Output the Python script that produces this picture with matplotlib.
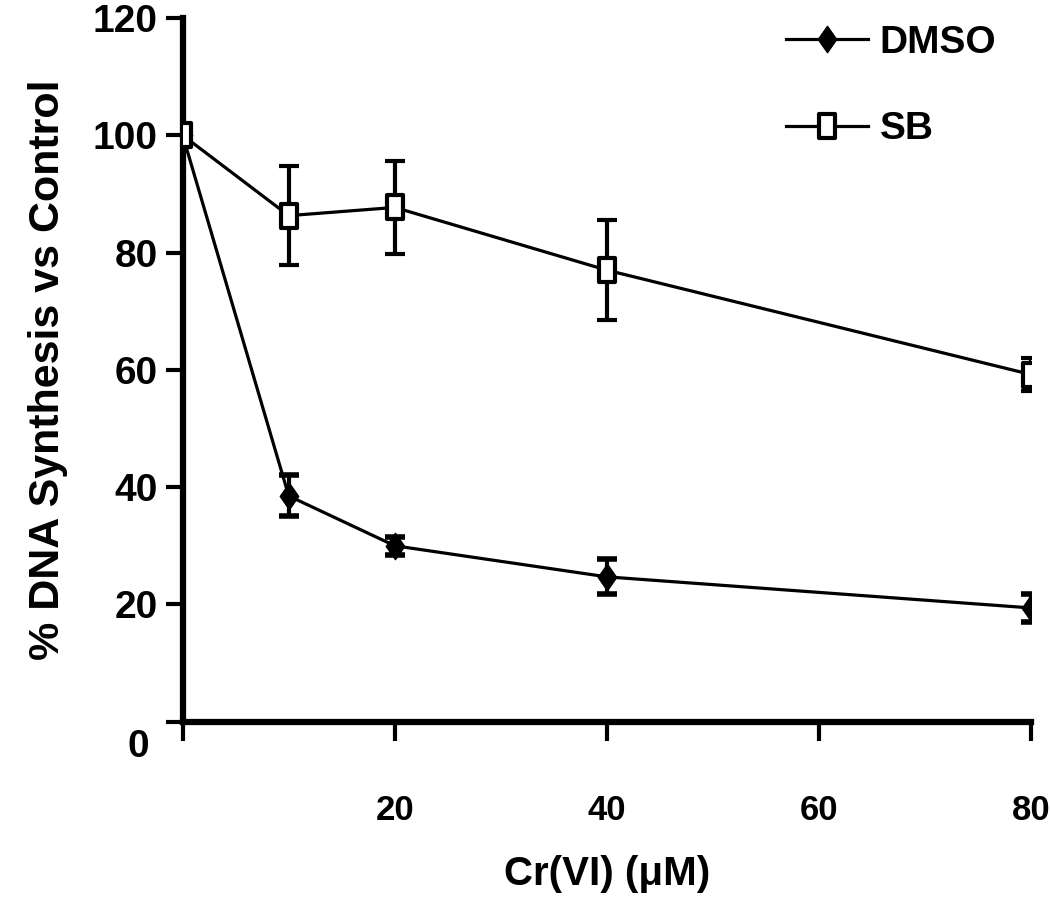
import matplotlib
matplotlib.use("Agg")
import matplotlib.pyplot as plt
from matplotlib.path import Path

# data
dose = [0, 10, 20, 40, 80]
dmso = [100, 38.5, 30, 24.7, 19.4]
dmso_err = [0, 3.5, 1.5, 3.0, 2.4]
sb = [100, 86.3, 87.7, 77.0, 59.2]
sb_err = [0, 8.5, 8.0, 8.5, 2.8]

xticks = [0, 20, 40, 60, 80]
xticklabels = ["", "20", "40", "60", "80"]
yticks = [0, 20, 40, 60, 80, 100, 120]
yticklabels = ["", "20", "40", "60", "80", "100", "120"]

plt.rcParams["font.family"] = ["Liberation Sans Narrow", "Liberation Sans", "DejaVu Sans"]
plt.rcParams["font.weight"] = "bold"

# tall markers, the original figure is squeezed horizontally
diamond = Path([(-0.7, 0), (0, 1), (0.7, 0), (0, -1), (-0.7, 0)],
               [Path.MOVETO, Path.LINETO, Path.LINETO, Path.LINETO, Path.CLOSEPOLY])
rect = Path([(-0.7, -1), (0.7, -1), (0.7, 1), (-0.7, 1), (-0.7, -1)],
            [Path.MOVETO, Path.LINETO, Path.LINETO, Path.LINETO, Path.CLOSEPOLY])

fig = plt.figure(figsize=(10.5, 9.01), dpi=100)
ax = fig.add_axes([0.174, 0.199, 0.808, 0.781])

ax.errorbar(dose, dmso, yerr=dmso_err, color="black", lw=2.3, marker=diamond, ms=19,
            mfc="black", mec="black", elinewidth=3, capsize=7.5, capthick=4, label="DMSO", zorder=3)
ax.errorbar(dose, sb, yerr=sb_err, color="black", lw=2.3, marker=rect, ms=17,
            mfc="white", mec="black", mew=3, elinewidth=3, capsize=7.5, capthick=4,
            label="SB", zorder=4)

ax.set_xlim(0, 80)
ax.set_ylim(0, 120)
ax.set_xticks(xticks)
ax.set_xticklabels(xticklabels)
ax.set_yticks(yticks)
ax.set_yticklabels(yticklabels)
ax.tick_params(axis="both", direction="out", width=3, labelsize=28)
ax.tick_params(axis="x", length=14, pad=38, labelsize=25)
ax.tick_params(axis="y", length=12, pad=6)
ax.text(-0.04, -0.01, "0", transform=ax.transAxes, ha="right", va="top", fontsize=28,
        fontweight="bold")

for s in ("top", "right"):
    ax.spines[s].set_visible(False)
for s in ("left", "bottom"):
    ax.spines[s].set_linewidth(4.5)

ax.set_xlabel("Cr(VI) (\u03bcM)", fontsize=29, fontweight="bold", labelpad=20)
ax.set_ylabel("% DNA Synthesis vs Control", fontsize=31, fontweight="bold", labelpad=18)

handles, labels = ax.get_legend_handles_labels()
handles = [h[0] for h in handles]
leg = ax.legend(handles, labels, loc="upper right", bbox_to_anchor=(1.0, 1.04), frameon=False,
                fontsize=28, handlelength=2.1, labelspacing=1.3, handletextpad=0.3)

fig.savefig("out.png", dpi=100)
